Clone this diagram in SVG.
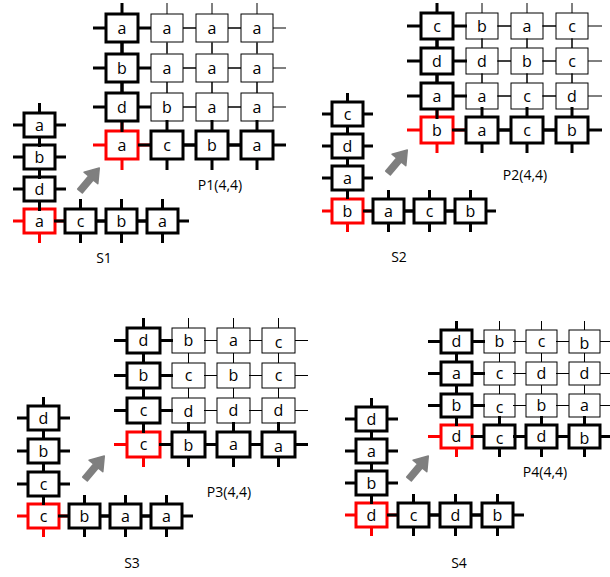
<svg xmlns="http://www.w3.org/2000/svg" xmlns:xlink="http://www.w3.org/1999/xlink" width="610" height="577" viewBox="0 0 610 577">
  <style>
    .thin { stroke: #000; stroke-width: 1; }
    .bold { stroke: #000; stroke-width: 3; }
    .red  { stroke: #f00; stroke-width: 3; }
    text { font-family: "Open Sans", "Liberation Sans", sans-serif; fill: #000; stroke: none; }
    .cell text { font-size: 16px; text-anchor: middle; }
    .caption { font-size: 14px; text-anchor: middle; }
    .arrow { fill: #7f7f7f; stroke: #7f7f7f; stroke-width: 1.5; stroke-linejoin: round; }
  </style>
  <defs>
    <!-- cell templates: box plus four port stubs; stroke comes from the owning group -->
    <g id="g1"><path fill="none" d="M-13,14H0M32,14H45M16,-11V0M16,28V39"/><rect width="32" height="28" fill="#fff"/></g>
    <g id="s1"><path fill="none" d="M-11,12H0M31,12H42M15.5,-10V0M15.5,24V34"/><rect width="31" height="24" fill="#fff"/></g>
    <g id="g2"><path fill="none" d="M-14,13H0M32,13H46M16,-10V0M16,26V36"/><rect width="32" height="26" fill="#fff"/></g>
    <g id="s2"><path fill="none" d="M-10,12H0M31,12H41M15.5,-9V0M15.5,24V33"/><rect width="31" height="24" fill="#fff"/></g>
    <g id="g3"><path fill="none" d="M-13,12.5H0M33,12.5H46M16.5,-10V0M16.5,25V35"/><rect width="33" height="25" fill="#fff"/></g>
    <g id="s3"><path fill="none" d="M-11,12H0M31,12H42M15.5,-9V0M15.5,24V33"/><rect width="31" height="24" fill="#fff"/></g>
    <g id="g4"><path fill="none" d="M-13,11.5H0M31,11.5H44M15.5,-9V0M15.5,23V32"/><rect width="31" height="23" fill="#fff"/></g>
    <g id="s4"><path fill="none" d="M-11,12H0M31,12H42M15.5,-9V0M15.5,24V33"/><rect width="31" height="24" fill="#fff"/></g>
    <path id="arrowShape" d="M0,-3L17,-3L17,-9L30,0L17,9L17,3L0,3Z"/>
  </defs>

  <rect width="610" height="577" fill="#fff"/>

  <!-- ===== P1 / S1 ===== -->
  <g id="p1">
    <g id="p1-r0c1" class="cell thin" transform="translate(151,14)"><use href="#g1"/><text x="16" y="19.5">a</text></g>
    <g id="p1-r0c2" class="cell thin" transform="translate(196,14)"><use href="#g1"/><text x="16" y="19.5">a</text></g>
    <g id="p1-r0c3" class="cell thin" transform="translate(241,14)"><use href="#g1"/><text x="16" y="19.5">a</text></g>
    <g id="p1-r1c1" class="cell thin" transform="translate(151,54)"><use href="#g1"/><text x="16" y="19.5">a</text></g>
    <g id="p1-r1c2" class="cell thin" transform="translate(196,54)"><use href="#g1"/><text x="16" y="19.5">a</text></g>
    <g id="p1-r1c3" class="cell thin" transform="translate(241,54)"><use href="#g1"/><text x="16" y="19.5">a</text></g>
    <g id="p1-r2c1" class="cell thin" transform="translate(151,93)"><use href="#g1"/><text x="16" y="19.5">b</text></g>
    <g id="p1-r2c2" class="cell thin" transform="translate(196,93)"><use href="#g1"/><text x="16" y="19.5">a</text></g>
    <g id="p1-r2c3" class="cell thin" transform="translate(241,93)"><use href="#g1"/><text x="16" y="19.5">a</text></g>
    <g id="p1-r3c0" class="cell red" transform="translate(106,131)"><use href="#g1"/><text x="16" y="19.5">a</text></g>
    <g id="p1-r0c0" class="cell bold" transform="translate(106,14)"><use href="#g1"/><text x="16" y="19.5">a</text></g>
    <g id="p1-r1c0" class="cell bold" transform="translate(106,54)"><use href="#g1"/><text x="16" y="19.5">b</text></g>
    <g id="p1-r2c0" class="cell bold" transform="translate(106,93)"><use href="#g1"/><text x="16" y="19.5">d</text></g>
    <g id="p1-r3c1" class="cell bold" transform="translate(151,131)"><use href="#g1"/><text x="16" y="19.5">c</text></g>
    <g id="p1-r3c2" class="cell bold" transform="translate(196,131)"><use href="#g1"/><text x="16" y="19.5">b</text></g>
    <g id="p1-r3c3" class="cell bold" transform="translate(241,131)"><use href="#g1"/><text x="16" y="19.5">a</text></g>
    <text class="caption" x="220" y="190">P1(4,4)</text>
  </g>
  <g id="s1-seq">
    <g id="s1-o" class="cell red" transform="translate(24,209)"><use href="#s1"/><text x="15.5" y="17.5">a</text></g>
    <g id="s1-v1" class="cell bold" transform="translate(24,177)"><use href="#s1"/><text x="15.5" y="17.5">d</text></g>
    <g id="s1-v2" class="cell bold" transform="translate(24,145)"><use href="#s1"/><text x="15.5" y="17.5">b</text></g>
    <g id="s1-v3" class="cell bold" transform="translate(24,113)"><use href="#s1"/><text x="15.5" y="17.5">a</text></g>
    <g id="s1-h1" class="cell bold" transform="translate(65,209)"><use href="#s1"/><text x="15.5" y="17.5">c</text></g>
    <g id="s1-h2" class="cell bold" transform="translate(106,209)"><use href="#s1"/><text x="15.5" y="17.5">b</text></g>
    <g id="s1-h3" class="cell bold" transform="translate(147,209)"><use href="#s1"/><text x="15.5" y="17.5">a</text></g>
    <text class="caption" x="104" y="263">S1</text>
  </g>

  <!-- ===== P2 / S2 ===== -->
  <g id="p2">
    <g id="p2-r0c1" class="cell thin" transform="translate(466,13)"><use href="#g2"/><text x="16" y="18.5">b</text></g>
    <g id="p2-r0c2" class="cell thin" transform="translate(511,13)"><use href="#g2"/><text x="16" y="18.5">a</text></g>
    <g id="p2-r0c3" class="cell thin" transform="translate(556,13)"><use href="#g2"/><text x="16" y="18.5">c</text></g>
    <g id="p2-r1c1" class="cell thin" transform="translate(466,48)"><use href="#g2"/><text x="16" y="18.5">d</text></g>
    <g id="p2-r1c2" class="cell thin" transform="translate(511,48)"><use href="#g2"/><text x="16" y="18.5">b</text></g>
    <g id="p2-r1c3" class="cell thin" transform="translate(556,48)"><use href="#g2"/><text x="16" y="18.5">c</text></g>
    <g id="p2-r2c1" class="cell thin" transform="translate(466,83)"><use href="#g2"/><text x="16" y="18.5">a</text></g>
    <g id="p2-r2c2" class="cell thin" transform="translate(511,83)"><use href="#g2"/><text x="16" y="18.5">c</text></g>
    <g id="p2-r2c3" class="cell thin" transform="translate(556,83)"><use href="#g2"/><text x="16" y="18.5">d</text></g>
    <g id="p2-r3c0" class="cell red" transform="translate(421,117)"><use href="#g2"/><text x="16" y="18.5">b</text></g>
    <g id="p2-r0c0" class="cell bold" transform="translate(421,13)"><use href="#g2"/><text x="16" y="18.5">c</text></g>
    <g id="p2-r1c0" class="cell bold" transform="translate(421,48)"><use href="#g2"/><text x="16" y="18.5">d</text></g>
    <g id="p2-r2c0" class="cell bold" transform="translate(421,83)"><use href="#g2"/><text x="16" y="18.5">a</text></g>
    <g id="p2-r3c1" class="cell bold" transform="translate(466,117)"><use href="#g2"/><text x="16" y="18.5">a</text></g>
    <g id="p2-r3c2" class="cell bold" transform="translate(511,117)"><use href="#g2"/><text x="16" y="18.5">c</text></g>
    <g id="p2-r3c3" class="cell bold" transform="translate(556,117)"><use href="#g2"/><text x="16" y="18.5">b</text></g>
    <text class="caption" x="525" y="180">P2(4,4)</text>
  </g>
  <g id="s2-seq">
    <g id="s2-o" class="cell red" transform="translate(332,199)"><use href="#s2"/><text x="15.5" y="17.5">b</text></g>
    <g id="s2-v1" class="cell bold" transform="translate(332,166)"><use href="#s2"/><text x="15.5" y="17.5">a</text></g>
    <g id="s2-v2" class="cell bold" transform="translate(332,134)"><use href="#s2"/><text x="15.5" y="17.5">d</text></g>
    <g id="s2-v3" class="cell bold" transform="translate(332,102)"><use href="#s2"/><text x="15.5" y="17.5">c</text></g>
    <g id="s2-h1" class="cell bold" transform="translate(373,199)"><use href="#s2"/><text x="15.5" y="17.5">a</text></g>
    <g id="s2-h2" class="cell bold" transform="translate(414,199)"><use href="#s2"/><text x="15.5" y="17.5">c</text></g>
    <g id="s2-h3" class="cell bold" transform="translate(455,199)"><use href="#s2"/><text x="15.5" y="17.5">b</text></g>
    <text class="caption" x="399" y="262">S2</text>
  </g>

  <!-- ===== P3 / S3 ===== -->
  <g id="p3">
    <g id="p3-r0c1" class="cell thin" transform="translate(172,328)"><use href="#g3"/><text x="16.5" y="18">b</text></g>
    <g id="p3-r0c2" class="cell thin" transform="translate(217,328)"><use href="#g3"/><text x="16.5" y="18">a</text></g>
    <g id="p3-r0c3" class="cell thin" transform="translate(262,328)"><use href="#g3"/><text x="16.5" y="19.5">c</text></g>
    <g id="p3-r1c1" class="cell thin" transform="translate(172,363)"><use href="#g3"/><text x="16.5" y="18">c</text></g>
    <g id="p3-r1c2" class="cell thin" transform="translate(217,363)"><use href="#g3"/><text x="16.5" y="18">b</text></g>
    <g id="p3-r1c3" class="cell thin" transform="translate(262,363)"><use href="#g3"/><text x="16.5" y="18">c</text></g>
    <g id="p3-r2c1" class="cell thin" transform="translate(172,398)"><use href="#g3"/><text x="16.5" y="19">d</text></g>
    <g id="p3-r2c2" class="cell thin" transform="translate(217,398)"><use href="#g3"/><text x="16.5" y="18">d</text></g>
    <g id="p3-r2c3" class="cell thin" transform="translate(262,398)"><use href="#g3"/><text x="16.5" y="18">d</text></g>
    <g id="p3-r3c0" class="cell red" transform="translate(127,432)"><use href="#g3"/><text x="16.5" y="18">c</text></g>
    <g id="p3-r0c0" class="cell bold" transform="translate(127,328)"><use href="#g3"/><text x="16.5" y="18">d</text></g>
    <g id="p3-r1c0" class="cell bold" transform="translate(127,363)"><use href="#g3"/><text x="16.5" y="18">b</text></g>
    <g id="p3-r2c0" class="cell bold" transform="translate(127,398)"><use href="#g3"/><text x="16.5" y="18">c</text></g>
    <g id="p3-r3c1" class="cell bold" transform="translate(172,432)"><use href="#g3"/><text x="16.5" y="19">b</text></g>
    <g id="p3-r3c2" class="cell bold" transform="translate(217,432)"><use href="#g3"/><text x="16.5" y="18">a</text></g>
    <g id="p3-r3c3" class="cell bold" transform="translate(262,432)"><use href="#g3"/><text x="16.5" y="19.5">a</text></g>
    <text class="caption" x="229" y="497">P3(4,4)</text>
  </g>
  <g id="s3-seq">
    <g id="s3-o" class="cell red" transform="translate(28,504)"><use href="#s3"/><text x="15.5" y="17.5">c</text></g>
    <g id="s3-v1" class="cell bold" transform="translate(28,472)"><use href="#s3"/><text x="15.5" y="17.5">c</text></g>
    <g id="s3-v2" class="cell bold" transform="translate(28,439)"><use href="#s3"/><text x="15.5" y="17.5">b</text></g>
    <g id="s3-v3" class="cell bold" transform="translate(28,406)"><use href="#s3"/><text x="15.5" y="17.5">d</text></g>
    <g id="s3-h1" class="cell bold" transform="translate(69,504)"><use href="#s3"/><text x="15.5" y="17.5">b</text></g>
    <g id="s3-h2" class="cell bold" transform="translate(110,504)"><use href="#s3"/><text x="15.5" y="17.5">a</text></g>
    <g id="s3-h3" class="cell bold" transform="translate(151,504)"><use href="#s3"/><text x="15.5" y="17.5">a</text></g>
    <text class="caption" x="132" y="568">S3</text>
  </g>

  <!-- ===== P4 / S4 ===== -->
  <g id="p4">
    <g id="p4-r0c1" class="cell thin" transform="translate(484,330)"><use href="#g4"/><text x="15.5" y="17">b</text></g>
    <g id="p4-r0c2" class="cell thin" transform="translate(526,330)"><use href="#g4"/><text x="15.5" y="17">c</text></g>
    <g id="p4-r0c3" class="cell thin" transform="translate(569,330)"><use href="#g4"/><text x="15.5" y="18.5">b</text></g>
    <g id="p4-r1c1" class="cell thin" transform="translate(484,362)"><use href="#g4"/><text x="15.5" y="17">c</text></g>
    <g id="p4-r1c2" class="cell thin" transform="translate(526,362)"><use href="#g4"/><text x="15.5" y="17">d</text></g>
    <g id="p4-r1c3" class="cell thin" transform="translate(569,362)"><use href="#g4"/><text x="15.5" y="17">d</text></g>
    <g id="p4-r2c1" class="cell thin" transform="translate(484,394)"><use href="#g4"/><text x="15.5" y="18.5">c</text></g>
    <g id="p4-r2c2" class="cell thin" transform="translate(526,394)"><use href="#g4"/><text x="15.5" y="17">b</text></g>
    <g id="p4-r2c3" class="cell thin" transform="translate(569,394)"><use href="#g4"/><text x="15.5" y="17">a</text></g>
    <g id="p4-r3c0" class="cell red" transform="translate(441,425)"><use href="#g4"/><text x="15.5" y="17">d</text></g>
    <g id="p4-r0c0" class="cell bold" transform="translate(441,330)"><use href="#g4"/><text x="15.5" y="17">d</text></g>
    <g id="p4-r1c0" class="cell bold" transform="translate(441,362)"><use href="#g4"/><text x="15.5" y="17">a</text></g>
    <g id="p4-r2c0" class="cell bold" transform="translate(441,394)"><use href="#g4"/><text x="15.5" y="17">b</text></g>
    <g id="p4-r3c1" class="cell bold" transform="translate(484,425)"><use href="#g4"/><text x="15.5" y="18.5">c</text></g>
    <g id="p4-r3c2" class="cell bold" transform="translate(526,425)"><use href="#g4"/><text x="15.5" y="17">d</text></g>
    <g id="p4-r3c3" class="cell bold" transform="translate(569,425)"><use href="#g4"/><text x="15.5" y="18.5">b</text></g>
    <text class="caption" x="545" y="477">P4(4,4)</text>
  </g>
  <g id="s4-seq">
    <g id="s4-o" class="cell red" transform="translate(356,503)"><use href="#s4"/><text x="15.5" y="17.5">d</text></g>
    <g id="s4-v1" class="cell bold" transform="translate(356,471)"><use href="#s4"/><text x="15.5" y="17.5">b</text></g>
    <g id="s4-v2" class="cell bold" transform="translate(356,439)"><use href="#s4"/><text x="15.5" y="17.5">a</text></g>
    <g id="s4-v3" class="cell bold" transform="translate(356,407)"><use href="#s4"/><text x="15.5" y="17.5">d</text></g>
    <g id="s4-h1" class="cell bold" transform="translate(398,503)"><use href="#s4"/><text x="15.5" y="17.5">c</text></g>
    <g id="s4-h2" class="cell bold" transform="translate(440,503)"><use href="#s4"/><text x="15.5" y="17.5">d</text></g>
    <g id="s4-h3" class="cell bold" transform="translate(482,503)"><use href="#s4"/><text x="15.5" y="17.5">b</text></g>
    <text class="caption" x="459" y="568">S4</text>
  </g>

  <!-- folding arrows: sequence to grid -->
  <g id="connectors" class="arrow">
    <use href="#arrowShape" transform="translate(80,191) rotate(-50)"/>
    <use href="#arrowShape" transform="translate(388,173) rotate(-50)"/>
    <use href="#arrowShape" transform="translate(85,479) rotate(-50)"/>
    <use href="#arrowShape" transform="translate(409,479) rotate(-50)"/>
  </g>
</svg>
